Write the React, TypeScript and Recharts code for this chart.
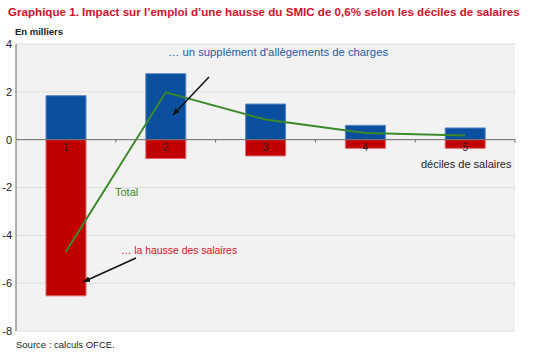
import React from "react";
import {
  ComposedChart,
  Bar,
  Line,
  XAxis,
  YAxis,
  CartesianGrid,
  ReferenceLine,
  LabelList,
} from "recharts";

const deciles = ["1", "2", "3", "4", "5"];
const allegements = [1.84, 2.76, 1.49, 0.6, 0.49];
const hausseSalaires = [-6.53, -0.79, -0.68, -0.36, -0.36];
const total = [-4.69, 1.98, 0.84, 0.28, 0.17];
const yTicks = [-8, -6, -4, -2, 0, 2, 4];

const data = deciles.map((d, i) => ({
  name: d,
  allegements: allegements[i],
  hausse: hausseSalaires[i],
  total: total[i],
}));

const FONT = "'Liberation Sans', Arial, sans-serif";

// zero line with small tick marks at the category boundaries
const ZeroLine = (props: any) => {
  const { x1, y1, x2 } = props;
  const step = (x2 - x1) / deciles.length;
  return (
    <g>
      <line x1={x1} y1={y1} x2={x2} y2={y1} stroke="#6b6b6b" strokeWidth={1} />
      {deciles.map((_, i) => (
        <line
          key={i}
          x1={x1 + step * (i + 1)}
          x2={x1 + step * (i + 1)}
          y1={y1}
          y2={y1 + 3}
          stroke="#6b6b6b"
        />
      ))}
    </g>
  );
};

// decile number just under the zero line, inside the red bar
const DecileLabel = (props: any) => {
  const { x, y, width, height, value } = props;
  const top = Math.min(y, y + height);
  return (
    <text x={x + width / 2} y={top + 11} textAnchor="middle" fontSize={10} fill="#222" fontFamily={FONT}>
      {value}
    </text>
  );
};

export default function App() {
  return (
    <div style={{ position: "absolute", left: 0, top: 0, width: 550, height: 352, background: "#fff" }}>
      <ComposedChart
        width={550}
        height={352}
        data={data}
        stackOffset="sign"
        margin={{ top: 44, right: 35, left: 0, bottom: 21 }}
      >
        <CartesianGrid vertical={false} fill="#f2f2f2" stroke="#dedede" />
        <XAxis dataKey="name" height={0} tick={false} tickLine={false} axisLine={{ stroke: "#6b6b6b" }} />
        <YAxis
          width={16}
          domain={[-8, 4]}
          ticks={yTicks}
          interval={0}
          axisLine={{ stroke: "#6b6b6b" }}
          tickLine={false}
          tickSize={3}
          tickMargin={1}
          tick={{ fontSize: 11, fill: "#222", fontFamily: FONT }}
        />
        <Bar dataKey="allegements" stackId="a" barSize={40} fill="#0b4f9f" stroke="#5b87c4" strokeWidth={1} isAnimationActive={false} />
        <Bar dataKey="hausse" stackId="a" barSize={40} fill="#c00000" stroke="#e0646b" strokeWidth={1} isAnimationActive={false}>
          <LabelList dataKey="name" content={<DecileLabel />} />
        </Bar>
        <ReferenceLine y={0} shape={<ZeroLine />} />
        <Line
          type="linear"
          dataKey="total"
          stroke="#3a8a2a"
          strokeWidth={2}
          dot={false}
          isAnimationActive={false}
        />
      </ComposedChart>
      <svg
        width={550}
        height={352}
        style={{ position: "absolute", left: 0, top: 0, pointerEvents: "none" }}
        fontFamily={FONT}
      >
        <defs>
          <marker id="arrow" markerWidth="8" markerHeight="8" refX="7" refY="4" orient="auto" markerUnits="userSpaceOnUse">
            <path d="M0,1 L7,4 L0,7 Z" fill="#111" />
          </marker>
        </defs>
        <text x={8} y={16} fontSize={11.6} fontWeight="bold" fill="#d0112b">
          Graphique 1. Impact sur l’emploi d’une hausse du SMIC de 0,6% selon les déciles de salaires
        </text>
        <text x={15} y={35} fontSize={9.5} fontWeight="bold" fill="#222">
          En milliers
        </text>
        <text x={168} y={56} fontSize={11.3} fill="#1d5ca8">
          … un supplément d'allègements de charges
        </text>
        <line x1={209} y1={77} x2={173} y2={115} stroke="#111" strokeWidth={1.5} markerEnd="url(#arrow)" />
        <text x={115} y={196} fontSize={11} fill="#3a8a2a">
          Total
        </text>
        <text x={121} y={254} fontSize={10.4} fill="#d0112b">
          … la hausse des salaires
        </text>
        <line x1={136} y1={258} x2={83} y2={282} stroke="#111" strokeWidth={1.5} markerEnd="url(#arrow)" />
        <text x={421} y={168} fontSize={11} fill="#222">
          déciles de salaires
        </text>
        <text x={16} y={348} fontSize={9.5} fill="#222">
          Source : calculs OFCE.
        </text>
      </svg>
    </div>
  );
}
